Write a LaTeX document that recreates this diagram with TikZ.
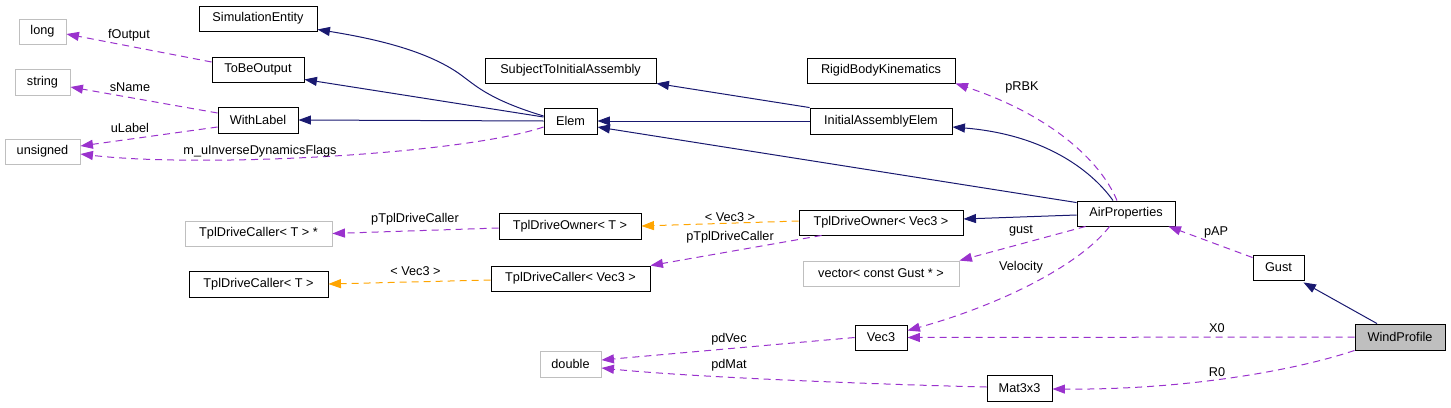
\documentclass[tikz,border=0pt]{standalone}
\usepackage{fontspec}
\setmainfont{Liberation Sans}
\usetikzlibrary{arrows.meta}
\definecolor{navy}{HTML}{191970}
\definecolor{orch}{HTML}{9A32CD}
\definecolor{orng}{HTML}{FFA500}
\definecolor{lgray}{HTML}{BFBFBF}
\begin{document}
\begin{tikzpicture}[x=1pt,y=-1pt,font=\fontsize{12.7}{15}\selectfont,
  cls/.style={draw=black,line width=0.9pt,inner sep=0pt,fill=white},
  ext/.style={draw=lgray,line width=0.9pt,inner sep=0pt,fill=white},
  inh/.style={draw=navy,line width=1pt,-{Triangle[length=12.5pt,width=9pt]}},
  use/.style={draw=orch,line width=1pt,dash pattern=on 7pt off 5pt,-{Triangle[length=12.5pt,width=9pt]}},
  tmpl/.style={draw=orng,line width=1pt,dash pattern=on 7pt off 5pt,-{Triangle[length=12.5pt,width=9pt]}},
  lbl/.style={inner sep=0pt}]
\useasboundingbox (0,0) rectangle (1451,407);
% nodes
\node[ext,minimum width=47pt,minimum height=25pt] (long) at (42.5,31.5) {long};
\node[ext,minimum width=55pt,minimum height=26pt] (string) at (42.5,82) {string};
\node[ext,minimum width=75pt,minimum height=25pt] (unsigned) at (42.5,151.5) {unsigned};
\node[cls,minimum width=118pt,minimum height=25pt] (simEnt) at (258,18.5) {SimulationEntity};
\node[cls,minimum width=92pt,minimum height=25pt] (toBeOut) at (258,69.5) {ToBeOutput};
\node[cls,minimum width=80pt,minimum height=26pt] (withLabel) at (258,120) {WithLabel};
\node[cls,minimum width=171pt,minimum height=25pt] (stia) at (570.5,70.5) {SubjectToInitialAssembly};
\node[cls,minimum width=53pt,minimum height=26pt] (elem) at (570.5,121) {Elem};
\node[cls,minimum width=148pt,minimum height=25pt] (rbk) at (881,70.5) {RigidBodyKinematics};
\node[cls,minimum width=142pt,minimum height=26pt] (iae) at (881,121) {InitialAssemblyElem};
\node[ext,minimum width=147pt,minimum height=25pt] (tdcTp) at (258.5,233.5) {TplDriveCaller< T > *};
\node[cls,minimum width=139pt,minimum height=26pt] (tdcT) at (258.5,284) {TplDriveCaller< T >};
\node[cls,minimum width=142pt,minimum height=26pt] (tdoT) at (570,226) {TplDriveOwner< T >};
\node[cls,minimum width=159pt,minimum height=25pt] (tdcV) at (570.5,278.5) {TplDriveCaller< Vec3 >};
\node[ext,minimum width=61pt,minimum height=26pt] (double) at (570.5,364) {double};
\node[cls,minimum width=164pt,minimum height=25pt] (tdoV) at (881,222.5) {TplDriveOwner< Vec3 >};
\node[cls,minimum width=98pt,minimum height=25pt] (air) at (1126,213.5) {AirProperties};
\node[ext,minimum width=156pt,minimum height=25pt] (vec) at (881,273.5) {vector< const Gust * >};
\node[cls,minimum width=52pt,minimum height=25pt] (vec3) at (881,337.5) {Vec3};
\node[cls,minimum width=65pt,minimum height=26pt] (mat) at (1019.5,388) {Mat3x3};
\node[cls,minimum width=51pt,minimum height=25pt] (gust) at (1278.5,267.5) {Gust};
\node[cls,fill=lgray,minimum width=90pt,minimum height=26pt] (wind) at (1400,337) {WindProfile};
% inheritance
\draw[inh] ([yshift=5pt]elem.west) .. controls (490,100) and (475,85) .. (465,78) .. controls (430,50) and (370,38) .. ([yshift=2pt]simEnt.south east);
\draw[inh] ([yshift=4pt]elem.west) -- ([yshift=3pt]toBeOut.south east);
\draw[inh] (elem.west) -- (withLabel.east);
\draw[inh] (iae.west) -- (elem.east);
\draw[inh] (iae.north west) -- (stia.south east);
\draw[inh] ([yshift=-2pt]air.north west) -- ([yshift=-6pt]elem.east);
\draw[inh] ([xshift=-13pt]air.north) .. controls (1095,175) and (1050,135) .. ([yshift=-6pt]iae.east);
\draw[inh] ([yshift=-1.5pt]air.west) -- ([yshift=3.5pt]tdoV.east);
\draw[inh] ([xshift=-23pt]wind.north) -- ([xshift=-1pt,yshift=-2pt]gust.south east);
% usage
\draw[use] ([yshift=7.5pt]toBeOut.west) -- ([yshift=-2.5pt]long.east);
\node[lbl] (lfOut) at (129,35) {fOutput};
\draw[use] ([yshift=7pt]withLabel.west) -- ([yshift=-5pt]string.east);
\node[lbl] (lsName) at (130,87) {sName};
\draw[use] ([yshift=-7pt]withLabel.west) -- ([yshift=5.5pt]unsigned.east);
\node[lbl] (luLabel) at (130,128) {uLabel};
\draw[use] ([yshift=-6pt]elem.west) .. controls (460,155) and (200,168) .. ([yshift=-2.5pt]unsigned.east);
\node[lbl] (lflags) at (260,151) {m\_uInverseDynamicsFlags};
\draw[use] ([xshift=-9pt]air.north) .. controls (1100,160) and (1050,115) .. (rbk.south east);
\node[lbl] (lrbk) at (1022,87) {pRBK};
\draw[tmpl] ([yshift=1.5pt]tdoV.west) -- (tdoT.east);
\node[lbl] (lv1) at (730,217) {< Vec3 >};
\draw[use] ([yshift=-2pt]tdoT.west) -- (tdcTp.east);
\node[lbl] (lp1) at (415,219) {pTplDriveCaller};
\draw[use] ([xshift=23pt]tdoV.south west) -- (tdcV.north east);
\node[lbl] (lp2) at (730,237) {pTplDriveCaller};
\draw[tmpl] ([yshift=-1.5pt]tdcV.west) -- (tdcT.east);
\node[lbl] (lv2) at (415.5,271) {< Vec3 >};
\draw[use] ([xshift=9pt]air.south west) -- (vec.north east);
\node[lbl] (lgust) at (1021,231) {gust};
\draw[use] ([xshift=33pt]air.south west) .. controls (1080,265) and (1000,305) .. ([yshift=-6pt]vec3.north east);
\node[lbl] (lvel) at (1021,267) {Velocity};
\draw[use] (wind.west) -- (vec3.east);
\node[lbl] (lx0) at (1217,328) {X0};
\draw[use] (wind.south west) .. controls (1290,372) and (1180,390) .. ([yshift=-1pt]mat.east);
\node[lbl] (lr0) at (1217,372) {R0};
\draw[use] (vec3.west) -- ([yshift=4pt]double.east);
\node[lbl] (lpdv) at (729,339) {pdVec};
\draw[use] ([yshift=1pt]mat.west) .. controls (900,385) and (700,378) .. ([yshift=-4pt]double.east);
\node[lbl] (lpdm) at (729,365) {pdMat};
\draw[use] ([yshift=-3pt]gust.north west) -- ([xshift=-7pt]air.south east);
\node[lbl] (lpap) at (1216,232) {pAP};
\end{tikzpicture}
\end{document}
